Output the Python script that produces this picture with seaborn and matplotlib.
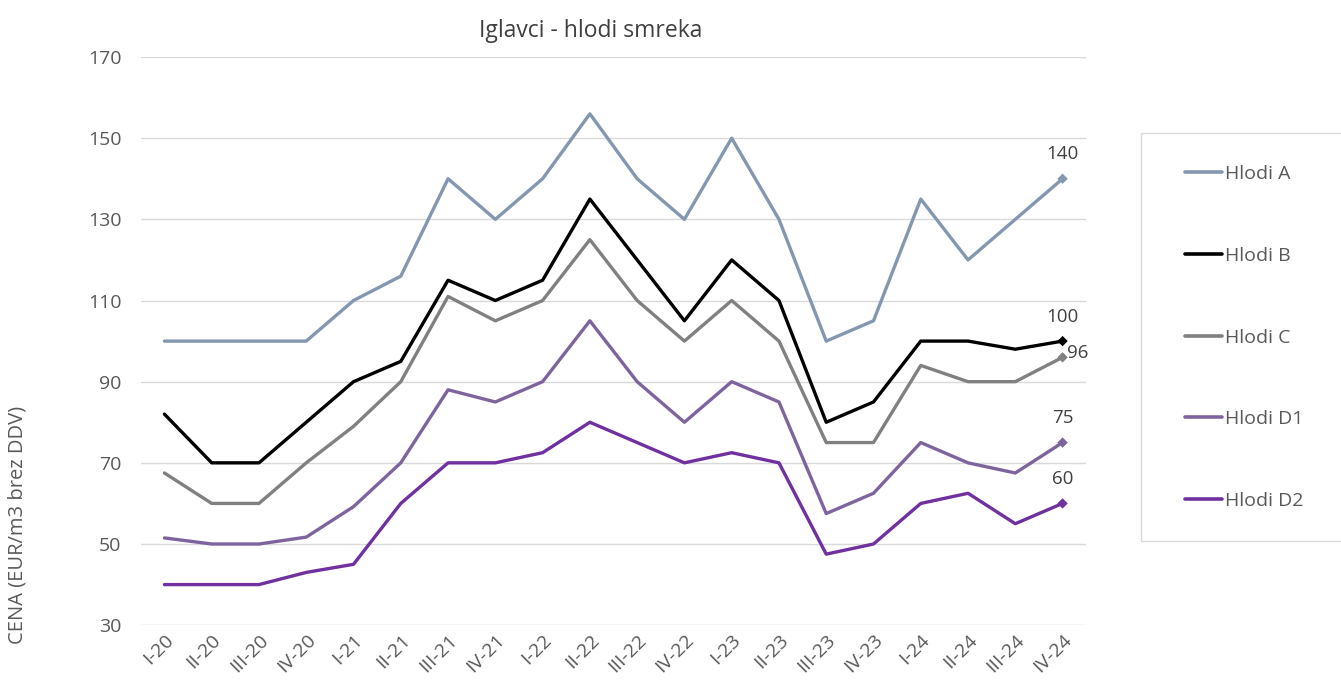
import pandas as pd
import matplotlib.pyplot as plt
import seaborn as sns
from matplotlib.patches import Rectangle

# quarters on the x axis
quarters = ['I-20', 'II-20', 'III-20', 'IV-20', 'I-21', 'II-21', 'III-21', 'IV-21',
            'I-22', 'II-22', 'III-22', 'IV-22', 'I-23', 'II-23', 'III-23', 'IV-23',
            'I-24', 'II-24', 'III-24', 'IV-24']

hlodi_a = [100, 100, 100, 100, 110, 116, 140, 130, 140, 156,
           140, 130, 150, 130, 100, 105, 135, 120, 130, 140]
hlodi_b = [82, 70, 70, 80, 90, 95, 115, 110, 115, 135,
           120, 105, 120, 110, 80, 85, 100, 100, 98, 100]
hlodi_c = [67.5, 60, 60, 70, 79, 90, 111, 105, 110, 125,
           110, 100, 110, 100, 75, 75, 94, 90, 90, 96]
hlodi_d1 = [51.5, 50, 50, 51.7, 59.2, 70, 88, 85, 90, 105,
            90, 80, 90, 85, 57.5, 62.5, 75, 70, 67.5, 75]
hlodi_d2 = [40, 40, 40, 43, 45, 60, 70, 70, 72.5, 80,
            75, 70, 72.5, 70, 47.5, 50, 60, 62.5, 55, 60]

series_names = ['Hlodi A', 'Hlodi B', 'Hlodi C', 'Hlodi D1', 'Hlodi D2']
colors = ['#8497B0', '#000000', '#808080', '#7E649E', '#7030A0']

sns.set_style('white')
plt.rcParams['font.family'] = ['Open Sans', 'DejaVu Sans']

df = pd.DataFrame({'kvartal': quarters, 'Hlodi A': hlodi_a, 'Hlodi B': hlodi_b,
                   'Hlodi C': hlodi_c, 'Hlodi D1': hlodi_d1, 'Hlodi D2': hlodi_d2})
long_df = df.melt(id_vars='kvartal', var_name='vrsta', value_name='cena')

fig = plt.figure(figsize=(13.41, 6.87), dpi=100)
ax = fig.add_axes([0.105, 0.090, 0.705, 0.827])

sns.lineplot(data=long_df, x='kvartal', y='cena', hue='vrsta', hue_order=series_names,
             palette=colors, linewidth=2.4, sort=False, ax=ax)

# diamond marker + label on the last quarter
last = long_df[long_df['kvartal'] == quarters[-1]]
sns.scatterplot(data=last, x='kvartal', y='cena', hue='vrsta', hue_order=series_names,
                palette=colors, marker='D', s=28, edgecolor='none', legend=False, ax=ax)
offsets = {'Hlodi A': (0, 11), 'Hlodi B': (0, 11), 'Hlodi C': (11, 3),
           'Hlodi D1': (0, 11), 'Hlodi D2': (0, 11)}
for _, row in last.iterrows():
    ax.annotate(f"{row['cena']:g}", (len(quarters) - 1, row['cena']),
                xytext=offsets[row['vrsta']], textcoords='offset points',
                ha='center', va='bottom' if offsets[row['vrsta']][1] > 5 else 'center',
                fontsize=13.5, color='#404040')

ax.set_ylim(30, 170)
ax.set_yticks(range(30, 171, 20))
ax.set_xlim(-0.5, len(quarters) - 0.5)
ax.yaxis.grid(True, color='#D9D9D9', linewidth=1)
ax.set_axisbelow(True)
sns.despine(ax=ax, left=True, bottom=True)
ax.tick_params(axis='both', length=0, labelsize=14, labelcolor='#595959')
ax.tick_params(axis='y', pad=14)
ax.tick_params(axis='x', pad=4)
plt.setp(ax.get_xticklabels(), rotation=45, ha='right', rotation_mode='anchor')
ax.set_xlabel('')
ax.set_ylabel('')

fig.text(0.4407, 0.955, 'Iglavci - hlodi smreka', ha='center', va='center',
         fontsize=16.5, color='#404040')
fig.text(0.013, 0.236, 'CENA (EUR/m3 brez DDV)', rotation=90, ha='center', va='center',
         fontsize=14.5, color='#595959')

# legend entries without frame, box drawn separately
handles, labels = ax.get_legend_handles_labels()
leg = ax.legend(handles, labels, loc='center left', bbox_to_anchor=(0.8837, 0.5087),
                bbox_transform=fig.transFigure, frameon=False,
                fontsize=14, labelspacing=3.28, handlelength=1.9, handletextpad=0.15,
                borderpad=0, borderaxespad=0)
for t in leg.get_texts():
    t.set_color('#595959')
for l in leg.get_lines():
    l.set_linewidth(2.6)
fig.patches.append(Rectangle((0.8508, 0.2125), 0.16, 0.594, transform=fig.transFigure,
                             facecolor='none', edgecolor='#D9D9D9', linewidth=1))

fig.savefig('out.png', dpi=100)
